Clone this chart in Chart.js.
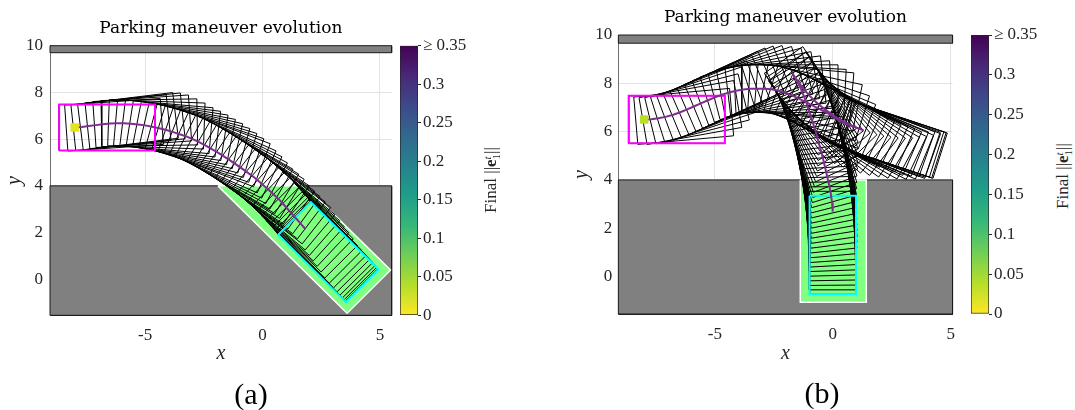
<!DOCTYPE html>
<html>
<head>
<meta charset="utf-8">
<script src="https://cdn.jsdelivr.net/npm/chart.js@4.4.1/dist/chart.umd.min.js"></script>
<style>
  body { margin: 0; background: #fff; width: 1075px; height: 410px; position: relative; overflow: hidden; }
  canvas { position: absolute; top: 0; }
  .panel { position: absolute; font-family: 'Liberation Serif', serif; font-size: 30px; color: #000; transform: translate(-50%, -50%); }
  .cblabel { position: absolute; font-family: 'Liberation Serif', serif; font-size: 17px; color: #262626; white-space: nowrap;
             transform: translate(-50%, -50%) rotate(-90deg); }
  .stack { display: inline-block; vertical-align: middle; font-size: 11px; line-height: 9px; }
  .stack span { display: block; }
</style>
</head>
<body>
<canvas id="plotA" width="400" height="410" style="left:0px"></canvas>
<canvas id="barA" width="80" height="410" style="left:399px"></canvas>
<canvas id="plotB" width="395" height="410" style="left:570px"></canvas>
<canvas id="barB" width="80" height="410" style="left:970px"></canvas>
<div class="panel" style="left:251px;top:394px">(a)</div>
<div class="panel" style="left:822px;top:393px">(b)</div>
<div class="cblabel" style="left:491px;top:180px">Final ||<b>e</b><span class="stack"><span><i>t</i></span><span>1</span></span>||</div>
<div class="cblabel" style="left:1063px;top:176px">Final ||<b>e</b><span class="stack"><span><i>t</i></span><span>1</span></span>||</div>
<script>
// ---- datos: poses del eje trasero (x, y, rumbo en grados) ----

// (a) maniobra en diagonal
const aPoseX = [-8.00, -7.70, -7.40, -7.10, -6.80, -6.50, -6.20, -5.90, -5.60, -5.30, -5.00, -4.70, -4.40, -4.10,
                -3.80, -3.50, -3.22, -2.95, -2.68, -2.42, -2.16, -1.90, -1.65, -1.40, -1.15, -0.90, -0.65, -0.40,
                -0.17, 0.06, 0.28, 0.50, 0.72, 0.93, 1.12, 1.30, 1.45, 1.58, 1.68, 1.75, 1.80, 1.83];
const aPoseY = [6.50, 6.52, 6.56, 6.60, 6.64, 6.67, 6.68, 6.68, 6.66, 6.63, 6.59, 6.53, 6.47, 6.39,
                6.30, 6.20, 6.11, 5.99, 5.86, 5.72, 5.57, 5.42, 5.26, 5.10, 4.93, 4.76, 4.58, 4.40,
                4.21, 4.01, 3.81, 3.61, 3.40, 3.17, 2.95, 2.75, 2.58, 2.44, 2.32, 2.24, 2.18, 2.14];
const aPoseHeading = [0, 4, 6, 7, 6, 4, 1, -2, -5, -7, -9, -11, -13, -15,
                      -17, -19, -21, -24, -26, -28, -30, -31, -32, -34, -35, -36, -37, -38,
                      -40, -41, -42, -43, -44, -45, -45, -45, -45, -45, -45, -45, -45, -45];

// (b) maniobra en batería: avance, avance a la derecha, retroceso, entrada
const bPoseX = [-8.00, -7.70, -7.40, -7.10, -6.80, -6.50, -6.20, -5.90, -5.60, -5.30, -5.00, -4.70, -4.40, -4.10,
                -3.80, -3.50, -3.20, -2.90, -2.60,
                -2.30, -2.00, -1.72, -1.44, -1.16, -0.88, -0.60, -0.32, -0.04, 0.24, 0.52, 0.78, 1.00, 1.15, 1.25, 1.30,
                1.02, 0.74, 0.47, 0.21, -0.04, -0.29, -0.53, -0.76, -0.98, -1.18, -1.37, -1.55, -1.72,
                -1.60, -1.49, -1.39, -1.30, -1.22, -1.14, -1.07, -1.00, -0.93, -0.86, -0.79, -0.72, -0.66, -0.60,
                -0.54, -0.48, -0.42, -0.37, -0.32, -0.27, -0.22, -0.17, -0.13, -0.09, -0.06, -0.03, -0.01, 0.00];
const bPoseY = [6.50, 6.51, 6.55, 6.61, 6.69, 6.79, 6.91, 7.04, 7.17, 7.30, 7.42, 7.53, 7.62, 7.69,
                7.74, 7.77, 7.78, 7.77, 7.75,
                7.69, 7.60, 7.49, 7.37, 7.23, 7.09, 6.95, 6.81, 6.67, 6.48, 6.35, 6.24, 6.16, 6.11, 6.08, 6.06,
                6.16, 6.28, 6.41, 6.56, 6.72, 6.89, 7.07, 7.27, 7.48, 7.70, 7.93, 8.17, 8.42,
                8.23, 8.04, 7.85, 7.65, 7.45, 7.25, 7.04, 6.83, 6.62, 6.41, 6.19, 5.98, 5.76, 5.55,
                5.33, 5.12, 4.90, 4.69, 4.48, 4.27, 4.06, 3.86, 3.66, 3.46, 3.26, 3.06, 2.87, 2.69];
const bPoseHeading = [0, 5, 10, 14, 18, 21, 23, 24, 24, 23, 21, 18, 15, 11,
                      7, 3, 0, -3, -5,
                      -12, -18, -22, -25, -27, -27, -27, -26, -25, -24, -22, -20, -19, -18, -18, -18,
                      -20, -23, -26, -29, -32, -35, -38, -41, -44, -47, -50, -53, -56,
                      -58, -60, -62, -64, -66, -68, -70, -71.5, -73, -74.5, -76, -77, -78, -79,
                      -80, -81, -82, -83, -84, -85, -86, -87, -88, -88.5, -89, -89.5, -90, -90];

// plazas de aparcamiento (polígonos)
const aSlotX = [-1.90, 1.80, 5.45, 3.60];
const aSlotY = [4.00, 4.00, 0.40, -1.45];
const bSlotX = [-1.38, 1.42, 1.42, -1.38];
const bSlotY = [4.00, 4.00, -1.06, -1.06];

// ejes
const xTicks = [-5, 0, 5];
const yTicks = [0, 2, 4, 6, 8, 10];
const cbTicks = [0, 0.05, 0.1, 0.15, 0.2, 0.25, 0.3, 0.35];
const cbLabels = ['0', '0.05', '0.1', '0.15', '0.2', '0.25', '0.3', '≥ 0.35'];

// colores
const viridisRev = ['#fde725', '#b5de2b', '#6ece58', '#35b779', '#1f9e89', '#26828e', '#31688e', '#3e4989', '#482878', '#440154'];
const serif = 'Liberation Serif';
const CAR_LEN = 4.08, CAR_WID = 1.97, CAR_REAR = 0.66;

Chart.defaults.color = '#262626';

// Contorno del coche a partir de la pose del eje trasero
function carOutline(x, y, deg) {
    const t = deg * Math.PI / 180, c = Math.cos(t), s = Math.sin(t);
    const h = CAR_WID / 2, f = CAR_LEN - CAR_REAR;
    const local = [[-CAR_REAR, -h], [f, -h], [f, h], [-CAR_REAR, h], [-CAR_REAR, -h]];
    return local.map(([u, v]) => ({ x: x + u * c - v * s, y: y + u * s + v * c }));
}

function rectsData(xs, ys, ts) {
    const out = [];
    xs.forEach((x, i) => {
        out.push(...carOutline(x, ys[i], ts[i]));
        out.push({ x: null, y: null });
    });
    return out;
}

function polyData(xs, ys) {
    const d = xs.map((x, i) => ({ x: x, y: ys[i] }));
    d.push(d[0]);
    return d;
}

function buildPlot(id, p) {
    const n = p.px.length - 1;
    return new Chart(document.getElementById(id), {
        type: 'line',
        data: {
            datasets: [
                // punto inicial
                { data: [{ x: p.px[0], y: p.py[0] }], showLine: false, pointStyle: 'rect', pointRadius: 6,
                  pointBackgroundColor: p.markerColor, pointBorderWidth: 0, order: 0 },
                // trayectoria
                { data: p.px.map((x, i) => ({ x: x, y: p.py[i] })), borderColor: '#7e2f8e', borderWidth: 2, order: 1 },
                // pose inicial y final
                { data: carOutline(p.px[0], p.py[0], p.pt[0]), borderColor: '#ff00ff', borderWidth: 2, order: 2 },
                { data: carOutline(p.px[n], p.py[n], p.pt[n]), borderColor: '#00ffff', borderWidth: 2, order: 2 },
                // todas las poses
                { data: rectsData(p.px, p.py, p.pt), borderColor: '#000000', borderWidth: 1, spanGaps: false, order: 3 },
                // plaza
                { data: polyData(p.slotX, p.slotY), borderColor: '#ffffff', borderWidth: 1.5,
                  backgroundColor: '#80ff80', fill: 'shape', order: 4 },
                // suelo y muro
                { data: polyData([p.xMin, p.xMin, p.xMax, p.xMax], [p.yMin, 4, 4, p.yMin]), borderColor: '#1a1a1a', borderWidth: 1,
                  backgroundColor: '#808080', fill: 'shape', order: 5, clip: 1 },
                { data: polyData([p.xMin, p.xMin, p.xMax, p.xMax], [p.wallY, p.yMax, p.yMax, p.wallY]), borderColor: '#1a1a1a', borderWidth: 1,
                  backgroundColor: '#808080', fill: 'shape', order: 6, clip: 1 }
            ]
        },
        options: {
            responsive: false,
            animation: false,
            elements: { point: { radius: 0 }, line: { tension: 0 } },
            layout: { padding: { left: 0, right: p.padRight, top: 0, bottom: 40 } },
            plugins: {
                legend: { display: false },
                tooltip: { enabled: false },
                title: {
                    display: true, text: 'Parking maneuver evolution', fullSize: false, color: '#000',
                    font: { family: 'DejaVu Serif', size: 17, weight: 'normal' },
                    padding: { top: p.titleTop, bottom: p.titleBottom }
                }
            },
            scales: {
                x: {
                    type: 'linear', min: p.xMin, max: p.xMax,
                    afterBuildTicks: s => { s.ticks = xTicks.map(v => ({ value: v })); },
                    afterFit: s => { s.height = p.xAxisHeight; },
                    grid: { color: '#e3e3e3', drawTicks: false },
                    border: { display: true, color: '#262626' },
                    ticks: { padding: 10, font: { family: serif, size: 17 } },
                    title: { display: true, text: 'x', font: { family: serif, size: 20, style: 'italic' },
                             padding: { top: 0, bottom: 4 } }
                },
                y: {
                    type: 'linear', min: p.yMin, max: p.yMax,
                    afterBuildTicks: s => { s.ticks = yTicks.map(v => ({ value: v })); },
                    afterFit: s => { s.width = p.yAxisWidth; },
                    grid: { color: '#e3e3e3', drawTicks: false },
                    border: { display: true, color: '#6e6e6e' },
                    ticks: { padding: p.yTickPad, font: { family: serif, size: 17 } },
                    title: { display: true, text: 'y', font: { family: serif, size: 20, style: 'italic' },
                             padding: { top: p.yTitlePad, bottom: 0 } }
                }
            }
        }
    });
}

function buildColorbar(id, padTop, padBottom) {
    return new Chart(document.getElementById(id), {
        type: 'bar',
        data: {
            labels: [''],
            datasets: [{
                data: [cbTicks[cbTicks.length - 1]],
                backgroundColor: c => {
                    const area = c.chart.chartArea;
                    if (!area) return null;
                    const g = c.chart.ctx.createLinearGradient(0, area.bottom, 0, area.top);
                    viridisRev.forEach((col, i) => g.addColorStop(i / (viridisRev.length - 1), col));
                    return g;
                },
                borderColor: '#262626', borderWidth: 1, borderSkipped: false,
                barPercentage: 1, categoryPercentage: 1
            }]
        },
        options: {
            responsive: false,
            animation: false,
            layout: { padding: { left: 1, right: 0, top: padTop, bottom: padBottom } },
            plugins: { legend: { display: false }, tooltip: { enabled: false } },
            scales: {
                x: { display: false },
                y: {
                    position: 'right', min: 0, max: cbTicks[cbTicks.length - 1],
                    afterBuildTicks: s => { s.ticks = cbTicks.map(v => ({ value: v })); },
                    afterFit: s => { s.width = 61; },
                    grid: { display: true, drawOnChartArea: false, drawTicks: true, tickLength: 3, color: '#262626' },
                    border: { display: false },
                    ticks: { padding: 2, font: { family: serif, size: 17 }, callback: (v, i) => cbLabels[i] }
                }
            }
        }
    });
}

buildPlot('plotA', {
    px: aPoseX, py: aPoseY, pt: aPoseHeading, slotX: aSlotX, slotY: aSlotY,
    xMin: -9.05, xMax: 5.5, yMin: -1.54, yMax: 10, wallY: 9.7,
    markerColor: '#e4e41c', padRight: 8.3, yAxisWidth: 50, yTickPad: 7, yTitlePad: 3,
    titleTop: 18, titleBottom: 7.3, xAxisHeight: 54.7
});
buildPlot('plotB', {
    px: bPoseX, py: bPoseY, pt: bPoseHeading, slotX: bSlotX, slotY: bSlotY,
    xMin: -9.1, xMax: 5.08, yMin: -1.55, yMax: 10, wallY: 9.66,
    markerColor: '#bade28', padRight: 7.3, yAxisWidth: 48.3, yTickPad: 6, yTitlePad: 0,
    titleTop: 7.5, titleBottom: 7.1, xAxisHeight: 56
});
buildColorbar('barA', 45.7, 94.7);
buildColorbar('barB', 35, 96);
</script>
</body>
</html>
